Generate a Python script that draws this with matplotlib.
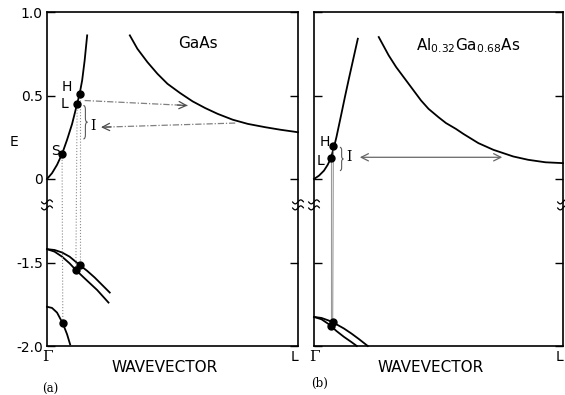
import numpy as np
import matplotlib
matplotlib.use('Agg')
import matplotlib.pyplot as plt
from matplotlib.path import Path
from matplotlib.patches import PathPatch

plt.rcParams['mathtext.fontset'] = 'dejavusans'

# energy axis is broken: 0..1.0 on top, -2.0..-1.5 below
ytick_pos = [1.0, 0.5, 0.0, -0.5, -1.0]
ytick_lab = ['1.0', '0.5', '0', '-1.5', '-2.0']

# --- GaAs (a) --- x: 0 = Gamma, 1 = L
a_gam_x = [0, 0.02, 0.04, 0.06, 0.08, 0.10, 0.12, 0.13, 0.14, 0.15, 0.16]
a_gam_E = [0, 0.035, 0.085, 0.15, 0.235, 0.33, 0.45, 0.51, 0.59, 0.71, 0.86]
a_L_x = [0.33, 0.36, 0.40, 0.44, 0.48, 0.53, 0.58, 0.63, 0.68, 0.74, 0.80, 0.87, 0.93, 1.0]
a_L_E = [0.86, 0.78, 0.70, 0.63, 0.57, 0.515, 0.465, 0.425, 0.39, 0.355, 0.33, 0.31, 0.295, 0.28]
a_hh_x = [0, 0.03, 0.06, 0.09, 0.13, 0.16, 0.19, 0.22, 0.25]
a_hh_E = [-1.42, -1.425, -1.44, -1.465, -1.515, -1.55, -1.59, -1.635, -1.68]
a_lh_x = [0, 0.03, 0.06, 0.09, 0.115, 0.15, 0.2, 0.245]
a_lh_E = [-1.42, -1.435, -1.465, -1.505, -1.545, -1.595, -1.665, -1.74]
a_so_x = [0, 0.02, 0.04, 0.063, 0.08, 0.092]
a_so_E = [-1.765, -1.772, -1.80, -1.865, -1.93, -1.99]
a_dots_x = [0.06, 0.12, 0.13, 0.063, 0.115, 0.13]
a_dots_E = [0.15, 0.45, 0.51, -1.865, -1.545, -1.515]

# --- Al0.32Ga0.68As (b) ---
b_gam_x = [0, 0.02, 0.04, 0.055, 0.068, 0.08, 0.09, 0.10, 0.11, 0.124, 0.14, 0.158, 0.176]
b_gam_E = [0, 0.02, 0.05, 0.085, 0.125, 0.19, 0.25, 0.32, 0.39, 0.49, 0.60, 0.72, 0.84]
b_L_x = [0.26, 0.30, 0.33, 0.37, 0.40, 0.43, 0.46, 0.50, 0.53, 0.57, 0.60, 0.66, 0.72,
         0.80, 0.86, 0.93, 1.0]
b_L_E = [0.85, 0.74, 0.67, 0.59, 0.53, 0.47, 0.42, 0.37, 0.335, 0.30, 0.27, 0.215, 0.175,
         0.135, 0.115, 0.10, 0.095]
b_hh_x = [0, 0.03, 0.06, 0.09, 0.12, 0.15, 0.18, 0.216]
b_hh_E = [-1.826, -1.832, -1.848, -1.87, -1.895, -1.925, -1.958, -2.0]
b_lh_x = [0, 0.03, 0.06, 0.09, 0.12, 0.15, 0.172]
b_lh_E = [-1.826, -1.84, -1.87, -1.91, -1.945, -1.976, -2.0]
b_dots_x = [0.068, 0.078, 0.068, 0.075]
b_dots_E = [0.125, 0.20, -1.878, -1.858]


def d(E):
    E = np.asarray(E, dtype=float)
    return np.where(E >= 0, E, E + 1.0)


def brace(ax, x0, y0, y1, w):
    xm = x0 + w * 0.5
    ym = (y0 + y1) / 2
    a = (y1 - y0) * 0.12
    v = [(x0, y1), (xm, y1), (xm, y1 - a), (xm, ym + a), (xm, ym), (x0 + w, ym),
         (x0 + w, ym), (xm, ym), (xm, ym - a), (xm, y0 + a), (xm, y0), (x0, y0)]
    c = [Path.MOVETO, Path.CURVE3, Path.CURVE3, Path.LINETO, Path.CURVE3, Path.CURVE3,
         Path.MOVETO, Path.CURVE3, Path.CURVE3, Path.LINETO, Path.CURVE3, Path.CURVE3]
    ax.add_patch(PathPatch(Path(v, c), fc='none', ec='0.35', lw=0.8))


def arrow(ax, x0, y0, x1, y1, style='->'):
    ax.plot([x0, x1], [y0, y1], color='0.5', lw=0.9, ls=(0, (5, 1.5, 1, 1.5)))
    ax.annotate('', xy=(x1, y1), xytext=(x1 - 0.04 * np.sign(x1 - x0), y1 + (y0 - y1) * 0.04 / abs(x1 - x0)),
                arrowprops=dict(arrowstyle=style, color='0.3', lw=0.9,
                                mutation_scale=13, shrinkA=0, shrinkB=0))


def squiggle(ax, xc, yc):
    # little "broken axis" mark across a side spine
    t = np.linspace(-1, 1, 15)
    for dy in (0.018, -0.018):
        ax.plot(xc + t * 0.022, yc + dy + 0.012 * np.sin(np.pi * t), color='k', lw=0.9,
                clip_on=False, solid_capstyle='round')


def frame(ax, labels):
    ax.set_xlim(0, 1)
    ax.set_ylim(-1, 1)
    ax.set_xticks([])
    ax.set_yticks(ytick_pos)
    if labels:
        ax.set_yticklabels(ytick_lab, fontsize=10)
    else:
        ax.set_yticklabels([])
    ax.tick_params(axis='y', direction='in', length=6, width=1, right=True, pad=3)
    for s in ax.spines.values():
        s.set_linewidth(1.2)
    squiggle(ax, 0, -0.155)
    squiggle(ax, 1, -0.155)
    ax.text(0, -1.065, 'Γ', family='DejaVu Serif', fontsize=11, ha='center', va='center')
    ax.text(1.0, -1.065, 'L', fontsize=10, ha='right', va='center')
    ax.text(0.47, -1.13, 'WAVEVECTOR', fontsize=11, ha='center', va='center')


fig = plt.figure(figsize=(5.65, 3.95), dpi=100)
ax1 = fig.add_axes([47 / 565, 1 - 346 / 395, 251 / 565, 334 / 395])
ax2 = fig.add_axes([314 / 565, 1 - 346 / 395, 249 / 565, 334 / 395])
frame(ax1, True)
frame(ax2, False)

kw = dict(color='k', lw=1.3, clip_on=False)

# (a) GaAs
for xs, es in [(a_gam_x, a_gam_E), (a_L_x, a_L_E), (a_hh_x, a_hh_E),
               (a_lh_x, a_lh_E), (a_so_x, a_so_E)]:
    ax1.plot(xs, d(es), **kw)
ax1.plot([0.13, 0.13], d([0.51, -1.515]), color='0.55', lw=0.8, ls=':')
ax1.plot([0.12, 0.115], d([0.45, -1.545]), color='0.55', lw=0.8, ls=':')
ax1.plot([0.06, 0.063], d([0.15, -1.865]), color='0.55', lw=0.8, ls=':')
ax1.plot(a_dots_x, d(a_dots_E), 'o', color='k', ms=5)
ax1.text(0.08, 0.55, 'H', fontsize=10, ha='center', va='center')
ax1.text(0.068, 0.45, 'L', fontsize=10, ha='center', va='center')
ax1.text(0.032, 0.17, 'S', fontsize=10, ha='center', va='center')
brace(ax1, 0.145, 0.24, 0.44, 0.016)
ax1.text(0.183, 0.32, 'I', family='DejaVu Serif', fontsize=10, ha='center', va='center')
arrow(ax1, 0.15, 0.47, 0.56, 0.44)
arrow(ax1, 0.75, 0.335, 0.215, 0.31)
ax1.text(0.6, 0.81, 'GaAs', fontsize=11, ha='center', va='center')
ax1.text(-0.13, 0.22, 'E', fontsize=10, ha='center', va='center', clip_on=False)
fig.text(50 / 565, 1 - 389 / 395, '(a)', family='DejaVu Serif', fontsize=8.5, ha='center', va='center')

# (b) AlGaAs
for xs, es in [(b_gam_x, b_gam_E), (b_L_x, b_L_E), (b_hh_x, b_hh_E), (b_lh_x, b_lh_E)]:
    ax2.plot(xs, d(es), **kw)
ax2.plot([0.078, 0.075], d([0.20, -1.858]), color='0.6', lw=0.8)
ax2.plot([0.068, 0.068], d([0.125, -1.878]), color='0.6', lw=0.8)
ax2.plot(b_dots_x, d(b_dots_E), 'o', color='k', ms=5)
ax2.text(0.045, 0.22, 'H', fontsize=10, ha='center', va='center')
ax2.text(0.025, 0.11, 'L', fontsize=10, ha='center', va='center')
brace(ax2, 0.104, 0.05, 0.19, 0.014)
ax2.text(0.14, 0.13, 'I', family='DejaVu Serif', fontsize=10, ha='center', va='center')
ax2.annotate('', xy=(0.184, 0.13), xytext=(0.756, 0.13),
             arrowprops=dict(arrowstyle='<->', color='0.4', lw=0.9, mutation_scale=13,
                             shrinkA=0, shrinkB=0))
ax2.text(0.62, 0.80, r'$\mathrm{Al}_{0.32}\mathrm{Ga}_{0.68}\mathrm{As}$', fontsize=11,
         ha='center', va='center')
fig.text(320 / 565, 1 - 383 / 395, '(b)', family='DejaVu Serif', fontsize=8.5, ha='center', va='center')

fig.savefig('out.png', dpi=100)
